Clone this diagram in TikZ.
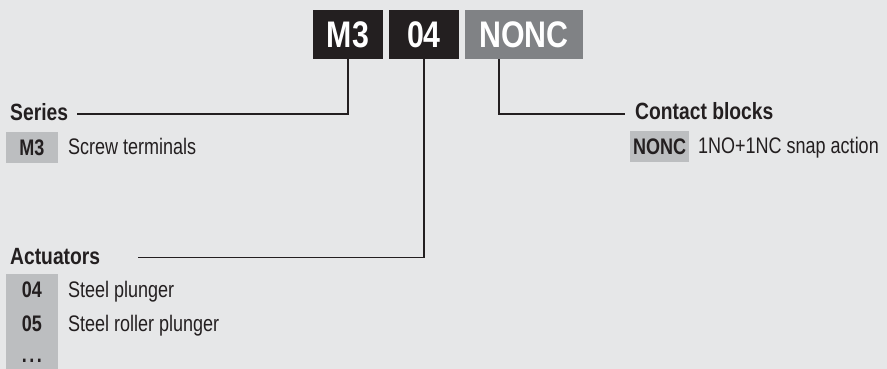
\documentclass[tikz,border=0pt]{standalone}
\usepackage{fontspec}
\newfontfamily\cf[FakeStretch=0.8]{Liberation Sans}
\newfontfamily\cfh[FakeStretch=0.82]{Liberation Sans}
\newfontfamily\cft[FakeStretch=0.82]{Liberation Sans}
\definecolor{bg}{HTML}{E6E7E8}
\definecolor{dk}{HTML}{231F20}
\definecolor{md}{HTML}{808285}
\definecolor{lt}{HTML}{BCBEC0}
\begin{document}
\begin{tikzpicture}[x=1pt,y=-1pt,
  topbox/.style={inner sep=0pt, minimum height=49pt, text=white,
    font=\cft\bfseries\fontsize{37}{40}\selectfont, text height=26.5pt, text depth=0pt},
  lbox/.style={fill=lt, inner sep=0pt, minimum height=31pt, text=dk,
    font=\cf\bfseries\fontsize{22.5}{26}\selectfont, text height=16pt, text depth=0pt},
  colitem/.style={inner sep=0pt, text=dk, anchor=base,
    font=\cf\bfseries\fontsize{22.5}{26}\selectfont},
  hdr/.style={inner sep=0pt, anchor=base west, text=dk,
    font=\cfh\bfseries\fontsize{23.5}{27}\selectfont},
  item/.style={inner sep=0pt, anchor=base west, text=dk,
    font=\cf\fontsize{22.5}{26}\selectfont},
  conn/.style={draw=dk, line width=1.2pt}]
\useasboundingbox (0,0) rectangle (887,369);
\fill[bg] (0,0) rectangle (887,369);
% top code boxes
\node[topbox, fill=dk, minimum width=70pt] (m3) at (348,34.5) {M3};
\node[topbox, fill=dk, minimum width=70pt] (c04) at (424,34.5) {04};
\node[topbox, fill=md, minimum width=118pt] (nonc) at (524,34.5) {NONC};
% Series
\node[hdr] (series) at (10,120.5) {Series};
\coordinate (sl) at (77,114);
\node[lbox, minimum width=52pt] (sm3) at (32,147.5) {M3};
\node[item] (screw) at (68,154.3) {Screw terminals};
% Contact blocks
\node[hdr] (contact) at (635,120) {Contact blocks};
\coordinate (cl) at (625,114);
\node[lbox, minimum width=59pt] (snonc) at (659.5,146.5) {NONC};
\node[item] (snap) at (698,153.5) {1NO+1NC snap action};
% Actuators
\node[hdr] (act) at (10,264) {Actuators};
\coordinate (al) at (138,257.7);
\fill[lt] (6,274) rectangle (58,369);
\node[colitem] (a04) at (32,297) {04};
\node[item] (a04t) at (68,297) {Steel plunger};
\node[colitem] (a05) at (32,331) {05};
\node[item] (a05t) at (68,331) {Steel roller plunger};
\node[colitem] (adots) at (32,362) {.\kern2.5pt.\kern2.5pt.};
% connectors
\draw[conn] (m3.south) |- (sl);
\draw[conn] (c04.south) |- (al);
\draw[conn] ([xshift=-25pt]nonc.south) |- (cl);
\end{tikzpicture}
\end{document}
